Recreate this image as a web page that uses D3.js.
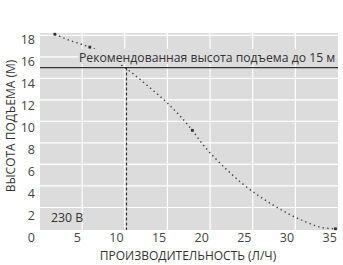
<!DOCTYPE html>
<html><head><meta charset="utf-8">
<script src="https://cdn.jsdelivr.net/npm/d3@7"></script>
<style>
html,body{margin:0;padding:0;background:#fff;}
svg{display:block;font-family:"Open Sans",sans-serif;}
</style></head>
<body><svg id="c" width="343" height="265"></svg>
<script>
// data
const xTicks = [0, 5, 10, 15, 20, 25, 30, 35];
const yTicks = [0, 2, 4, 6, 8, 10, 12, 14, 16, 18];
const flowX = [1.8, 3.4, 5.9, 6.55, 9.65, 10.76, 12.94, 15.08, 17.92, 19.2, 20.69, 22.2, 23.84, 25.56, 27.38, 29.25, 31.17, 33.22, 34.7];
const headY = [18.1, 17.57, 16.9, 16.7, 15.2, 14.56, 13.13, 11.64, 9.17, 7.81, 6.5, 5.33, 4.18, 3.16, 2.23, 1.39, 0.68, 0.12, 0.02];
const markerX = [1.8, 5.9, 17.92, 34.7];
const markerY = [18.1, 16.9, 9.17, 0.02];
const recommendedHead = 15;
const recommendedFlow = 10.2;
const recommendedLabel = "Рекомендованная высота подъема до 15 м";
const voltageLabel = "230 В";
const xTitle = "ПРОИЗВОДИТЕЛЬНОСТЬ (Л/Ч)";
const yTitle = "ВЫСОТА ПОДЪЕМА (М)";

const svg = d3.select("#c");
const x = d3.scaleLinear().domain([0, 35]).range([39.5, 338]);
const y = d3.scaleLinear().domain([0, 18]).range([229, 35.3]);
const yLab = d3.scaleLinear().domain([0, 18]).range([238, 40]);

// plot background
svg.append("rect").attr("x", 40).attr("y", 33).attr("width", 298).attr("height", 197).attr("fill", "#dcdcdd");

// gridlines
svg.append("g").selectAll("line").data(yTicks.filter(d => d > 0)).join("line")
  .attr("x1", 40).attr("x2", 338).attr("y1", d => y(d)).attr("y2", d => y(d))
  .attr("stroke", "#fff").attr("stroke-width", 1.2);
svg.append("g").selectAll("line").data(xTicks.filter(d => d > 0 && d < 35)).join("line")
  .attr("x1", d => x(d)).attr("x2", d => x(d)).attr("y1", 33).attr("y2", 230)
  .attr("stroke", "#fff").attr("stroke-width", 1.2);

// tick labels
svg.append("g").selectAll("text").data(yTicks).join("text")
  .attr("x", 35).attr("y", d => yLab(d)).attr("dy", "0.35em")
  .attr("text-anchor", "end").attr("font-size", 12.5).attr("fill", "#444").text(d => d);
svg.append("g").selectAll("text").data(xTicks.filter(d => d > 0)).join("text")
  .attr("x", d => x(d) - 1.2).attr("y", 238).attr("dy", "0.35em")
  .attr("text-anchor", "end").attr("font-size", 12.5).attr("fill", "#444").text(d => d);

// dotted curve
const pts = flowX.map((v, i) => [v, headY[i]]);
const line = d3.line().x(d => x(d[0])).y(d => y(d[1])).curve(d3.curveMonotoneX);
svg.append("path").attr("d", line(pts)).attr("fill", "none")
  .attr("stroke", "#4a4a4a").attr("stroke-width", 1.5).attr("stroke-dasharray", "1.4,3.2");

// markers
svg.append("g").selectAll("rect").data(markerX.map((v, i) => [v, markerY[i]])).join("rect")
  .attr("x", d => x(d[0]) - 1.4).attr("y", d => y(d[1]) - 1.4).attr("width", 2.8).attr("height", 2.8)
  .attr("fill", "#333");

// label with background box
const lab = svg.append("g");
const labBox = lab.append("rect").attr("fill", "#dcdcdd");
const labText = lab.append("text").attr("x", 79).attr("y", 61.5).attr("font-size", 12.2)
  .attr("fill", "#333").text(recommendedLabel);
const bb = labText.node().getBBox();
labBox.attr("x", bb.x - 1).attr("y", 49).attr("width", bb.width + 3).attr("height", 15);

// recommended head line and dashed flow line
svg.append("line").attr("x1", 40).attr("x2", 338).attr("y1", y(recommendedHead)).attr("y2", y(recommendedHead))
  .attr("stroke", "#333").attr("stroke-width", 1.3);
svg.append("line").attr("x1", x(recommendedFlow)).attr("x2", x(recommendedFlow))
  .attr("y1", y(recommendedHead)).attr("y2", 230)
  .attr("stroke", "#333").attr("stroke-width", 1.2).attr("stroke-dasharray", "3,2");

// voltage label
svg.append("text").attr("x", 51).attr("y", 218).attr("dy", "0.35em").attr("font-size", 12.3)
  .attr("fill", "#333").text(voltageLabel);

// axis titles
svg.append("text").attr("x", 188).attr("y", 256).attr("dy", "0.35em").attr("text-anchor", "middle")
  .attr("font-size", 12).attr("fill", "#333").text(xTitle);
svg.append("text").attr("transform", "translate(11,126) rotate(-90)").attr("dy", "0.35em")
  .attr("text-anchor", "middle").attr("font-size", 12).attr("fill", "#333").text(yTitle);
</script></body></html>
